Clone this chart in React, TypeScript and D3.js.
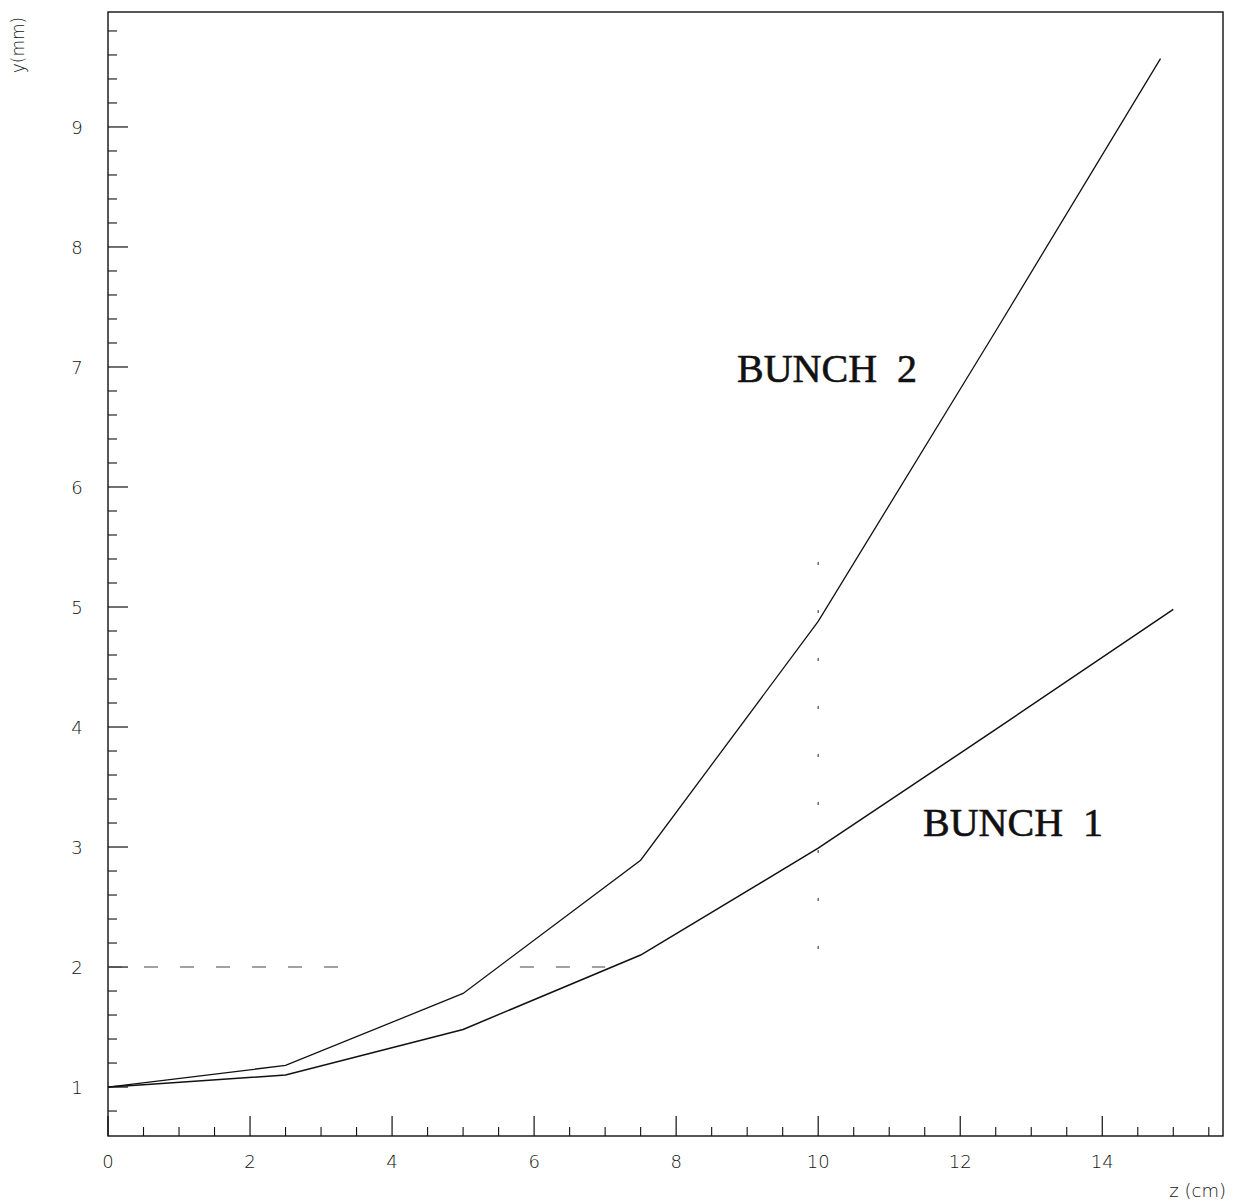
import React from "react";
import * as d3 from "d3";

const bunch1Z = [0, 0.5, 2.5, 5, 7.5, 10, 12.5, 15];
const bunch1Y = [1.0, 1.02, 1.1, 1.48, 2.1, 2.99, 3.98, 4.98];
const bunch2Z = [0, 2.5, 5, 7.5, 10, 12.5, 14.82];
const bunch2Y = [1.0, 1.18, 1.78, 2.89, 4.88, 7.3, 9.57];
const refLineY = 2;
const refSegments: [number, number][] = [[0, 3.4], [5.8, 7.0]];
const markZ = 10;
const markRange: [number, number] = [2.15, 5.6];
const xMajorTicks = [0, 2, 4, 6, 8, 10, 12, 14];
const yMajorTicks = [1, 2, 3, 4, 5, 6, 7, 8, 9];
const labels = ["BUNCH 2", "BUNCH 1"];

export default function App() {
  const W = 1233, H = 1204;
  const x = d3.scaleLinear().domain([0, 15.7]).range([108, 1223]);
  const y = d3.scaleLinear().domain([0.592, 9.958]).range([1136, 12]);
  const line = d3.line<[number, number]>().x(d => x(d[0])).y(d => y(d[1]));
  const b1 = bunch1Z.map((z, i) => [z, bunch1Y[i]] as [number, number]);
  const b2 = bunch2Z.map((z, i) => [z, bunch2Y[i]] as [number, number]);
  const xMinor = d3.range(0.5, 15.6, 0.5).filter(v => Math.abs(v % 2) > 1e-6);
  const yMinor = d3.range(0.8, 9.9, 0.2).filter(v => Math.abs(v - Math.round(v)) > 1e-6);
  const [x0, x1] = x.range();
  const [yb, yt] = y.range();
  const tickFont = "'DejaVu Sans', sans-serif";
  const serif = "'Liberation Serif', 'Times New Roman', serif";
  return (
    <svg width={W} height={H} style={{ position: "absolute", left: 0, top: 0, background: "#fff" }}>
      <rect x={0} y={0} width={W} height={H} fill="#fff" />
      <rect x={x0} y={yt} width={x1 - x0} height={yb - yt} fill="none" stroke="#111" strokeWidth={1.4} />
      {yMajorTicks.map(v => (
        <line key={"ym" + v} x1={x0} x2={x0 + 20} y1={y(v)} y2={y(v)} stroke="#111" strokeWidth={1.2} />
      ))}
      {yMinor.map(v => (
        <line key={"yn" + v.toFixed(1)} x1={x0} x2={x0 + 9} y1={y(v)} y2={y(v)} stroke="#111" strokeWidth={1.1} />
      ))}
      {yMajorTicks.map(v => (
        <text key={"yl" + v} x={77} y={y(v) + 7} textAnchor="middle" fontFamily={tickFont} fontWeight={300} fontSize={18} fill="#111">{v}</text>
      ))}
      {xMajorTicks.map(v => (
        <line key={"xm" + v} x1={x(v)} x2={x(v)} y1={yb} y2={yb - 20} stroke="#111" strokeWidth={1.2} />
      ))}
      {xMinor.map(v => (
        <line key={"xn" + v} x1={x(v)} x2={x(v)} y1={yb} y2={yb - 9} stroke="#111" strokeWidth={1.1} />
      ))}
      {xMajorTicks.map(v => (
        <text key={"xl" + v} x={x(v)} y={1168} textAnchor="middle" fontFamily={tickFont} fontWeight={300} fontSize={18} fill="#111">{v}</text>
      ))}
      <text x={1226} y={1197} textAnchor="end" fontFamily={tickFont} fontWeight={300} fontSize={18} fill="#111">z (cm)</text>
      <text transform="translate(24,45) rotate(-90)" textAnchor="middle" fontFamily={tickFont} fontWeight={300} fontSize={17} fill="#111">y(mm)</text>
      {refSegments.map((s, i) => (
        <line key={"rs" + i} x1={x(s[0])} x2={x(s[1])} y1={y(refLineY)} y2={y(refLineY)} stroke="#444" strokeWidth={1.1} strokeDasharray="14 22" />
      ))}
      <line x1={x(markZ)} x2={x(markZ)} y1={y(markRange[0])} y2={y(markRange[1])} stroke="#555" strokeWidth={1.3} strokeDasharray="3 45" />
      <path d={line(b2) || ""} fill="none" stroke="#111" strokeWidth={1.3} />
      <path d={line(b1) || ""} fill="none" stroke="#111" strokeWidth={1.5} />
      <text x={737} y={382} fontFamily={serif} fontSize={40} fill="#111" stroke="#111" strokeWidth={0.6} style={{ whiteSpace: "pre" }}>{labels[0].replace(" ", "  ")}</text>
      <text x={923} y={836} fontFamily={serif} fontSize={40} fill="#111" stroke="#111" strokeWidth={0.6} style={{ whiteSpace: "pre" }}>{labels[1].replace(" ", "  ")}</text>
    </svg>
  );
}
